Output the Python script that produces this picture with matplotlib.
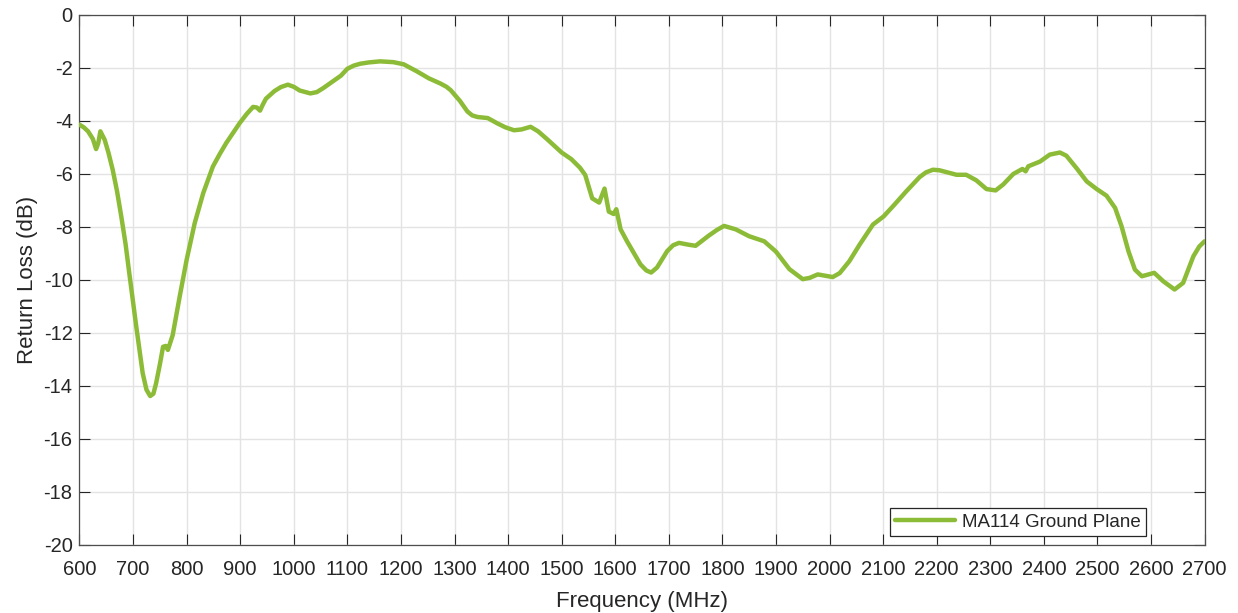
import numpy as np
import matplotlib.pyplot as plt

# Colors
line_color = "#8cbc37"
text_color = "#262626"
grid_color = "#e3e3e3"

# Data (frequency in MHz, return loss in dB)
freq = [600, 608, 616, 625, 631, 635, 639, 647, 654, 662, 670, 678, 686, 693,
        706, 718, 725, 732, 738, 743, 750, 756, 761, 765, 774, 787, 800, 815,
        831, 849, 862, 874, 887, 899, 912, 924, 931, 937, 942, 948, 964, 976,
        989, 1000, 1011, 1031, 1043, 1055, 1074, 1088, 1100, 1112, 1124, 1140,
        1161, 1186, 1205, 1230, 1252, 1274, 1285, 1293, 1310, 1324, 1333, 1343,
        1362, 1380, 1395, 1411, 1425, 1442, 1456, 1473, 1500, 1518, 1534, 1544,
        1557, 1570, 1580, 1588, 1597, 1602, 1610, 1622, 1635, 1647, 1658, 1667,
        1678, 1697, 1708, 1719, 1737, 1750, 1775, 1790, 1803, 1825, 1850, 1878,
        1900, 1925, 1950, 1963, 1978, 2006, 2019, 2037, 2056, 2081, 2101, 2121,
        2143, 2168, 2180, 2193, 2205, 2237, 2255, 2274, 2293, 2310, 2324, 2343,
        2360, 2366, 2371, 2393, 2411, 2430, 2442, 2461, 2480, 2498, 2517, 2533,
        2545, 2558, 2570, 2583, 2606, 2623, 2644, 2660, 2679, 2690, 2700]
loss = [-4.15, -4.25, -4.4, -4.69, -5.07, -4.85, -4.4, -4.72, -5.2, -5.85,
        -6.65, -7.61, -8.65, -9.76, -11.77, -13.53, -14.15, -14.39, -14.3,
        -13.91, -13.2, -12.53, -12.5, -12.65, -12.09, -10.64, -9.25, -7.87,
        -6.73, -5.73, -5.25, -4.84, -4.45, -4.09, -3.75, -3.48, -3.5, -3.62,
        -3.4, -3.17, -2.88, -2.73, -2.64, -2.72, -2.86, -2.97, -2.92, -2.77,
        -2.5, -2.3, -2.04, -1.92, -1.85, -1.8, -1.76, -1.79, -1.87, -2.14,
        -2.4, -2.6, -2.72, -2.85, -3.25, -3.65, -3.8, -3.86, -3.9, -4.1,
        -4.25, -4.36, -4.33, -4.23, -4.4, -4.7, -5.2, -5.45, -5.77, -6.05,
        -6.93, -7.09, -6.56, -7.43, -7.52, -7.34, -8.1, -8.55, -9.0, -9.42,
        -9.65, -9.73, -9.54, -8.92, -8.7, -8.61, -8.68, -8.72, -8.33, -8.12,
        -7.97, -8.1, -8.36, -8.55, -8.94, -9.6, -9.98, -9.93, -9.8, -9.9,
        -9.75, -9.3, -8.68, -7.92, -7.61, -7.17, -6.67, -6.13, -5.95, -5.85,
        -5.87, -6.04, -6.04, -6.25, -6.58, -6.63, -6.41, -6.01, -5.82, -5.91,
        -5.72, -5.54, -5.28, -5.2, -5.32, -5.79, -6.29, -6.57, -6.83, -7.29,
        -7.98, -8.93, -9.62, -9.87, -9.74, -10.06, -10.37, -10.12, -9.12,
        -8.75, -8.55]

xticks = list(range(600, 2701, 100))
yticks = list(range(-20, 1, 2))

plt.rcParams["font.family"] = ["Liberation Sans", "DejaVu Sans"]
plt.rcParams["axes.unicode_minus"] = False

fig = plt.figure(figsize=(12.38, 6.13), dpi=100)
ax = fig.add_axes([0.0642, 0.1114, 0.9088, 0.8646])

ax.plot(freq, loss, color=line_color, linewidth=3.2, label="MA114 Ground Plane",
        solid_capstyle="round", solid_joinstyle="round", zorder=3)

ax.set_xlim(600, 2700)
ax.set_ylim(-20, 0)
ax.set_xticks(xticks)
ax.set_yticks(yticks)
ax.tick_params(direction="in", length=8, width=0.8, top=True, right=True,
               labelsize=14.5, colors=text_color)
ax.tick_params(axis="x", pad=11)
ax.tick_params(axis="y", pad=5)
ax.grid(True, color=grid_color, linewidth=1.0, zorder=0)
for s in ax.spines.values():
    s.set_color("#4d4d4d")
    s.set_linewidth(0.9)

ax.set_xlabel("Frequency (MHz)", fontsize=16, color=text_color, labelpad=9)
ax.set_ylabel("Return Loss (dB)", fontsize=16, color=text_color, labelpad=4)

leg = ax.legend(loc="lower right", bbox_to_anchor=(0.948, 0.016), borderaxespad=0,
                fontsize=13.5, fancybox=False, framealpha=1, handlelength=3.2,
                borderpad=0.3, handletextpad=0.35)
leg.get_frame().set_edgecolor("#262626")
leg.get_frame().set_linewidth(0.9)
for t in leg.get_texts():
    t.set_color(text_color)

fig.savefig("out.png", dpi=100)
